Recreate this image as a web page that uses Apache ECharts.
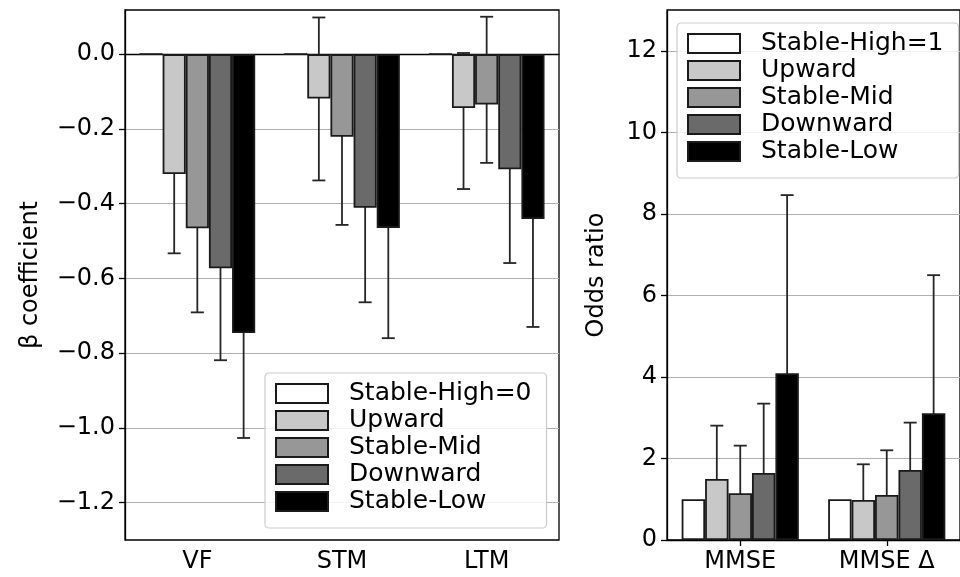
<!DOCTYPE html>
<html>
<head>
<meta charset="utf-8">
<script src="https://cdn.jsdelivr.net/npm/echarts@6/dist/echarts.min.js"></script>
<style>html,body{margin:0;padding:0;background:#fff}#c{width:960px;height:577px}</style>
</head>
<body>
<div id="c"></div>
<script>
// ---- data ----
const leftCats = ['VF', 'STM', 'LTM'];
const rightCats = ['MMSE', 'MMSE \u0394'];
const groupNames = ['Stable-High', 'Upward', 'Stable-Mid', 'Downward', 'Stable-Low'];
const leftLegend = ['Stable-High=0', 'Upward', 'Stable-Mid', 'Downward', 'Stable-Low'];
const rightLegend = ['Stable-High=1', 'Upward', 'Stable-Mid', 'Downward', 'Stable-Low'];

// beta coefficients (left panel)
const betaStableHigh = [0, 0, 0];
const betaUpward = [-0.321, -0.119, -0.144];
const betaStableMid = [-0.466, -0.221, -0.135];
const betaDownward = [-0.573, -0.411, -0.308];
const betaStableLow = [-0.746, -0.465, -0.441];
const betaLowerUpward = [-0.533, -0.338, -0.361];
const betaUpperUpward = [-0.109, 0.098, 0.003];
const betaLowerStableMid = [-0.691, -0.457, -0.291];
const betaUpperStableMid = [-0.241, -0.020, 0.100];
const betaLowerDownward = [-0.819, -0.664, -0.559];
const betaUpperDownward = [-0.327, -0.158, -0.057];
const betaLowerStableLow = [-1.027, -0.760, -0.730];
const betaUpperStableLow = [-0.465, -0.170, -0.152];

// odds ratios (right panel)
const orStableHigh = [1.0, 1.0];
const orUpward = [1.497, 0.98];
const orStableMid = [1.145, 1.104];
const orDownward = [1.644, 1.718];
const orStableLow = [4.09, 3.109];
const orLowerUpward = [0.80, 0.52];
const orUpperUpward = [2.805, 1.857];
const orLowerStableMid = [0.57, 0.55];
const orUpperStableMid = [2.314, 2.20];
const orLowerDownward = [0.81, 1.03];
const orUpperDownward = [3.345, 2.879];
const orLowerStableLow = [1.98, 1.49];
const orUpperStableLow = [8.46, 6.496];

const betaTicks = [-1.2, -1.0, -0.8, -0.6, -0.4, -0.2, 0.0];
const orTicks = [0, 2, 4, 6, 8, 10, 12];

// ---- build ----
const colors = ['#ffffff', '#c8c8c8', '#979797', '#6a6a6a', '#000000'];
const FONT = 'DejaVu Sans';
const FS = 24;

const betaVals = [betaStableHigh, betaUpward, betaStableMid, betaDownward, betaStableLow];
const betaErr = [null,
  [betaLowerUpward, betaUpperUpward],
  [betaLowerStableMid, betaUpperStableMid],
  [betaLowerDownward, betaUpperDownward],
  [betaLowerStableLow, betaUpperStableLow]];
const orVals = [orStableHigh, orUpward, orStableMid, orDownward, orStableLow];
const orErr = [null,
  [orLowerUpward, orUpperUpward],
  [orLowerStableMid, orUpperStableMid],
  [orLowerDownward, orUpperDownward],
  [orLowerStableLow, orUpperStableLow]];

function errData(errs) {
  const d = [];
  errs.forEach((e, k) => {
    if (!e) return;
    e[0].forEach((lo, i) => d.push([i, lo, e[1][i], k]));
  });
  return d;
}

function renderErr(params, api) {
  const cat = api.value(0), lo = api.value(1), hi = api.value(2), k = api.value(3);
  const band = api.size([1, 0])[0];
  const bw = band * 0.8 / 5;
  const p0 = api.coord([cat, lo]);
  const p1 = api.coord([cat, hi]);
  const x = p0[0] + (k - 2) * bw;
  const cw = 6.5;
  const st = { stroke: '#262626', lineWidth: 1.8 };
  return {
    type: 'group',
    children: [
      { type: 'line', shape: { x1: x, y1: p0[1], x2: x, y2: p1[1] }, style: st },
      { type: 'line', shape: { x1: x - cw, y1: p0[1], x2: x + cw, y2: p0[1] }, style: st },
      { type: 'line', shape: { x1: x - cw, y1: p1[1], x2: x + cw, y2: p1[1] }, style: st }
    ]
  };
}

function barSeries(names, vals, axisIdx) {
  return vals.map((v, k) => ({
    type: 'bar',
    name: names[k],
    xAxisIndex: axisIdx,
    yAxisIndex: axisIdx,
    data: v,
    barGap: '0%',
    barCategoryGap: '20%',
    z: 3,
    itemStyle: { color: colors[k], borderColor: '#1a1a1a', borderWidth: 1.8 },
    emphasis: { disabled: true }
  }));
}

const series = [].concat(
  barSeries(leftLegend, betaVals, 0),
  barSeries(rightLegend, orVals, 1),
  [{
    type: 'custom', xAxisIndex: 0, yAxisIndex: 0, z: 2, silent: true,
    data: errData(betaErr), renderItem: renderErr
  }, {
    type: 'custom', xAxisIndex: 1, yAxisIndex: 1, z: 2, silent: true,
    data: errData(orErr), renderItem: renderErr
  }]
);

const axisLineStyle = { lineStyle: { color: '#000', width: 1.3 } };
const textBase = { fontFamily: FONT, fontSize: FS, color: '#000' };

function catAxis(idx, data) {
  return {
    type: 'category', gridIndex: idx, data: data,
    axisLine: axisLineStyle,
    axisTick: { show: true, alignWithLabel: true, length: 6, lineStyle: { color: '#000', width: 1.3 } },
    axisLabel: Object.assign({ margin: 10 }, textBase),
    splitLine: { show: false }
  };
}

function valAxis(idx, min, max, ticks, name, nameGap, fmt) {
  return {
    type: 'value', gridIndex: idx, min: min, max: max,
    name: name, nameLocation: 'middle', nameGap: nameGap,
    nameTextStyle: textBase,
    axisLine: Object.assign({ show: true }, axisLineStyle),
    axisTick: { show: true, length: 6, customValues: ticks, lineStyle: { color: '#000', width: 1.3 } },
    axisLabel: Object.assign({ margin: 10, customValues: ticks, formatter: fmt }, textBase),
    splitLine: { show: true, lineStyle: { color: '#b0b0b0', width: 1.2 } }
  };
}

function legend(data, left, top) {
  return {
    data: data, orient: 'vertical', left: left, top: top,
    icon: 'rect', itemWidth: 52, itemHeight: 19, itemGap: 2,
    padding: [8, 15, 14, 10],
    backgroundColor: 'rgba(255,255,255,0.85)',
    borderColor: '#cccccc', borderWidth: 1.2, borderRadius: 4,
    textStyle: { fontFamily: FONT, fontSize: 25, color: '#000', padding: [0, 0, 0, 16] },
    selectedMode: false
  };
}

const option = {
  animation: false,
  backgroundColor: '#fff',
  grid: [
    { left: 125, top: 10, width: 434, height: 530, show: true, borderColor: '#000', borderWidth: 1.3, backgroundColor: 'transparent' },
    { left: 667, top: 10, width: 303, height: 530, show: true, borderColor: '#000', borderWidth: 1.3, backgroundColor: 'transparent' }
  ],
  xAxis: [catAxis(0, leftCats), catAxis(1, rightCats)],
  yAxis: [
    valAxis(0, -1.3, 0.118, betaTicks, '\u03b2 coefficient', 82,
      v => (v < -1e-9 ? '\u2212' : '') + Math.abs(v).toFixed(1)),
    valAxis(1, 0, 13, orTicks, 'Odds ratio', 58, v => String(v))
  ],
  legend: [legend(leftLegend, 265, 373), legend(rightLegend, 677, 23)],
  series: series
};

const chart = echarts.init(document.getElementById('c'), null, { renderer: 'canvas' });
chart.setOption(option);
</script>
</body>
</html>
